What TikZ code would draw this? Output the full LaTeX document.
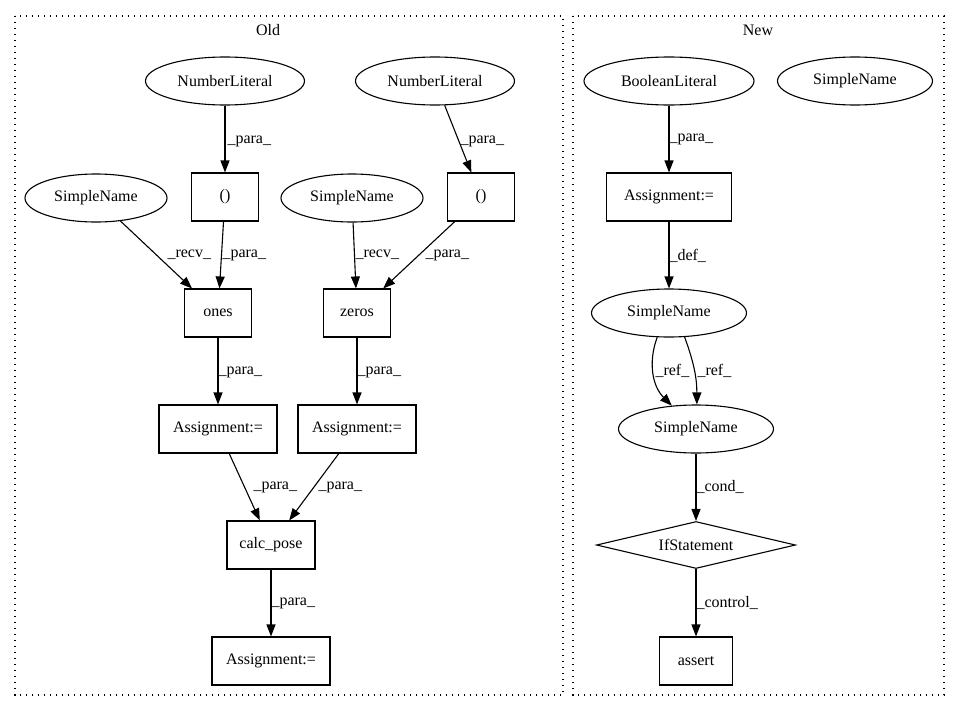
\documentclass[tikz,border=0pt]{standalone}
\usepackage{fontspec}
\setmainfont{Liberation Serif}
\usetikzlibrary{shapes.geometric,arrows.meta}
\begin{document}
\begin{tikzpicture}[x=1pt,y=-1pt,line width=1.1pt,
  every node/.style={font=\fontsize{16}{19}\selectfont},
  box/.style={draw,rectangle,minimum height=48pt,inner sep=0pt},
  oval/.style={draw,ellipse,minimum height=48pt,inner sep=0pt},
  cond/.style={draw,diamond,aspect=4.2,minimum height=47pt,minimum width=199pt,inner sep=0pt},
  edge/.style={-{Triangle[length=12pt,width=9pt]}},
  lbl/.style={anchor=west,inner sep=0pt},
  clus/.style={dash pattern=on 1.3pt off 4.7pt}]
\useasboundingbox (0,0) rectangle (960,712);
\draw[clus] (15,16) rectangle (563,695);
\draw[clus] (573,16) rectangle (944,695);
\node (oldtitle) at (268,30) {Old};
\node (newtitle) at (758,30) {New};
\node[oval,minimum width=159pt] (numA) at (225,81) {NumberLiteral};
\node[oval,minimum width=159pt] (numB) at (435,81) {NumberLiteral};
\node[oval,minimum width=142pt] (snA) at (96,198) {SimpleName};
\node[box,minimum width=67pt] (parA) at (225,197) {()};
\node[oval,minimum width=142pt] (snB) at (352,198) {SimpleName};
\node[box,minimum width=67pt] (parB) at (481,197) {()};
\node[box,minimum width=67pt] (ones) at (218,313) {ones};
\node[box,minimum width=67pt] (zeros) at (357,313) {zeros};
\node[box,minimum width=118pt] (asgA) at (218,429) {Assignment:=};
\node[box,minimum width=118pt] (asgB) at (357,429) {Assignment:=};
\node[box,minimum width=88pt] (calc) at (271,545) {calc\_pose};
\node[box,minimum width=118pt] (asgC) at (271,661) {Assignment:=};
\node[oval,minimum width=170pt] (bool) at (669,81) {BooleanLiteral};
\node[oval,minimum width=155pt] (snC) at (855,81) {SimpleName};
\node[box,minimum width=125pt] (asgD) at (669,197) {Assignment:=};
\node[oval,minimum width=155pt] (snD) at (669,313) {SimpleName};
\node[oval,minimum width=155pt] (snE) at (696,429) {SimpleName};
\node[cond] (ifst) at (696,545) {IfStatement};
\node[box,minimum width=73pt] (asrt) at (696,661) {assert};
\draw[edge] (numA) -- (parA) node[lbl,at={(227,141)}] {\_para\_};
\draw[edge] (numB) -- (parB) node[lbl,at={(460,141)}] {\_para\_};
\draw[edge] (snA) -- (ones) node[lbl,at={(167,255)}] {\_recv\_};
\draw[edge] (parA) -- (ones) node[lbl,at={(222,255)}] {\_para\_};
\draw[edge] (snB) -- (zeros) node[lbl,at={(355,255)}] {\_recv\_};
\draw[edge] (parB) -- (zeros) node[lbl,at={(425,255)}] {\_para\_};
\draw[edge] (ones) -- (asgA) node[lbl,at={(218,372)}] {\_para\_};
\draw[edge] (zeros) -- (asgB) node[lbl,at={(357,372)}] {\_para\_};
\draw[edge] (asgA) -- (calc) node[lbl,at={(253,487)}] {\_para\_};
\draw[edge] (asgB) -- (calc) node[lbl,at={(318,487)}] {\_para\_};
\draw[edge] (calc) -- (asgC) node[lbl,at={(271,603)}] {\_para\_};
\draw[edge] (bool) -- (asgD) node[lbl,at={(669,139)}] {\_para\_};
\draw[edge] (asgD) -- (snD) node[lbl,at={(669,256)}] {\_def\_};
\draw[edge] (snD.244) to[out=-110,in=135] (snE.136) node[lbl,at={(655,371)}] {\_ref\_};
\draw[edge] (snD.303) to[out=-70,in=90] (snE.88) node[lbl,at={(697,371)}] {\_ref\_};
\draw[edge] (snE) -- (ifst) node[lbl,at={(696,487)}] {\_cond\_};
\draw[edge] (ifst) -- (asrt) node[lbl,at={(696,603)}] {\_control\_};
\end{tikzpicture}
\end{document}
